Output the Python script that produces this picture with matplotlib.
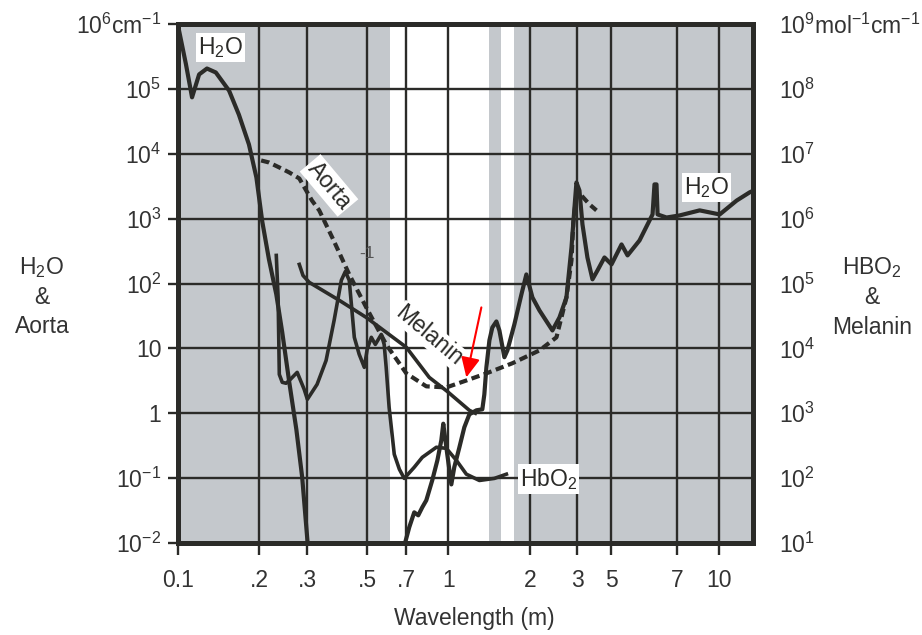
import matplotlib
matplotlib.use('Agg')
import matplotlib.pyplot as plt
from matplotlib.ticker import FixedLocator, FixedFormatter, NullLocator

plt.rcParams['font.family'] = ['Liberation Sans', 'DejaVu Sans']
plt.rcParams['mathtext.fontset'] = 'custom'
plt.rcParams['mathtext.rm'] = 'Liberation Sans'
plt.rcParams['mathtext.default'] = 'regular'

# wavelength ticks (as drawn in the original figure)
x_ticks = [0.1, 0.2, 0.3, 0.5, 0.7, 1, 2, 3, 4, 7, 10]
x_tick_labels = ['0.1', '.2', '.3', '.5', '.7', '1', '2', '3', '5', '7', '10']

left_ticks = [1e-2, 1e-1, 1, 10, 1e2, 1e3, 1e4, 1e5, 1e6]
left_tick_labels = ['$10^{-2}$', '$10^{-1}$', '1', '10', '$10^{2}$', '$10^{3}$',
                    '$10^{4}$', '$10^{5}$', '$10^{6}$cm$^{-1}$']
right_ticks = [1e1, 1e2, 1e3, 1e4, 1e5, 1e6, 1e7, 1e8, 1e9]
right_tick_labels = ['$10^{1}$', '$10^{2}$', '$10^{3}$', '$10^{4}$', '$10^{5}$',
                     '$10^{6}$', '$10^{7}$', '$10^{8}$', '$10^{9}$mol$^{-1}$cm$^{-1}$']

# transmission windows (white bands)
window_bands = [(0.61, 1.42), (1.57, 1.75)]

# water, UV part (cm^-1)
h2o_uv_wl = [0.100, 0.107, 0.1127, 0.1197, 0.128, 0.138, 0.1545, 0.168, 0.183,
             0.195, 0.205, 0.217, 0.231, 0.243, 0.258, 0.274, 0.288, 0.303]
h2o_uv_abs = [9.5e5, 2.4e5, 7.4e4, 1.67e5, 2.06e5, 1.79e5, 9.4e4, 4.0e4, 1.39e4,
              4.3e3, 900, 235, 68, 17.7, 3.0, 0.565, 0.103, 0.008]

# water, visible / IR part (cm^-1)
h2o_ir_wl = [0.687, 0.717, 0.748, 0.774, 0.801, 0.829, 0.872, 0.911, 0.942, 0.958,
             0.991, 1.026, 1.052, 1.099, 1.146, 1.196, 1.27, 1.336, 1.359, 1.383,
             1.419, 1.455, 1.506, 1.545, 1.612, 1.654, 1.755, 1.864, 1.944, 2.047,
             2.173, 2.427, 2.577, 2.735, 2.855, 2.929, 2.978, 3.055, 3.135, 3.27,
             3.414, 3.563, 3.781, 4.015, 4.373, 4.603, 5.097, 5.695, 5.79, 5.89,
             5.945, 6.416, 7.171, 8.506, 10.09, 11.66, 13.02, 13.5]
h2o_ir_abs = [0.009, 0.0175, 0.0297, 0.0267, 0.0355, 0.0455, 0.0925, 0.188, 0.382, 0.69,
              0.233, 0.080, 0.147, 0.299, 0.607, 0.96, 1.11, 1.15, 1.95, 5.1,
              13.3, 21, 26, 18.9, 7.3, 9.3, 23.4, 68, 138, 61,
              38.5, 18.9, 30, 61, 360, 1490, 3610, 2720, 815, 252,
              116, 159, 252, 197, 400, 271, 461, 1160, 3370, 3370,
              1160, 1040, 1120, 1340, 1160, 1900, 2540, 2720]

# aorta (cm^-1)
aorta_wl = [0.203, 0.217, 0.237, 0.258, 0.281, 0.313, 0.333, 0.372, 0.430, 0.497,
            0.589, 0.699, 0.829, 0.983, 1.166, 1.383, 1.726, 2.173, 2.512, 2.735,
            2.855, 2.90, 2.978, 3.109, 3.327, 3.532]
aorta_abs = [7880, 7340, 6150, 5150, 4160, 1900, 1340, 513, 138, 42.8,
             11.5, 4.12, 2.6, 2.5, 3.2, 4.12, 5.9, 9.3, 14.8, 61,
             227, 873, 2360, 2270, 1660, 1340]

# oxyhemoglobin (mol^-1 cm^-1)
hbo2_wl = [0.231, 0.2346, 0.237, 0.243, 0.251, 0.258, 0.276, 0.293, 0.301, 0.327,
           0.353, 0.378, 0.402, 0.416, 0.430, 0.449, 0.468, 0.489, 0.501, 0.519,
           0.537, 0.565, 0.579, 0.589, 0.604, 0.631, 0.659, 0.687, 0.748, 0.801,
           0.903, 0.983, 1.071, 1.166, 1.303, 1.480, 1.640]
hbo2_abs = [2.71e5, 6.1e4, 3970, 3000, 2900, 3200, 4270, 2330, 1640, 2790,
            6500, 2.7e4, 1.12e5, 1.53e5, 1.12e5, 1.48e4, 8100, 5100, 9700, 1.48e4,
            1.15e4, 1.64e4, 1.15e4, 5100, 1230, 233, 137, 99, 147, 209,
            299, 288, 188, 115, 92, 99, 115]

# melanin (mol^-1 cm^-1)
mel_wl = [0.281, 0.290, 0.306, 0.395, 0.497, 0.699, 0.850, 0.991, 1.196, 1.259]
mel_abs = [1.97e5, 1.33e5, 1.04e5, 5.5e4, 3.0e4, 1.04e4, 3570, 2170, 1110, 1000]

GRAY = '#c4c8cc'
INK = '#2b2b28'
TXT = '#333333'
FS = 16.5

fig = plt.figure(figsize=(9.22, 6.35), dpi=100)
ax = fig.add_axes([178 / 922, 1 - 543 / 635, 575 / 922, 519 / 635])
ax.set_xscale('log')
ax.set_yscale('log')
ax.set_xlim(0.1, 13.4)
ax.set_ylim(1e-2, 1e6)
ax.set_facecolor(GRAY)
ax.set_axisbelow(True)
for lo, hi in window_bands:
    ax.axvspan(lo, hi, color='white', lw=0, zorder=0.3)

ax.xaxis.set_major_locator(FixedLocator(x_ticks))
ax.xaxis.set_major_formatter(FixedFormatter(x_tick_labels))
ax.xaxis.set_minor_locator(NullLocator())
ax.yaxis.set_major_locator(FixedLocator(left_ticks))
ax.yaxis.set_major_formatter(FixedFormatter(left_tick_labels))
ax.yaxis.set_minor_locator(NullLocator())
ax.grid(True, which='major', color=INK, lw=1.7)
ax.tick_params(axis='y', direction='out', length=7, width=1.7, pad=5,
               labelsize=FS, color=INK, labelcolor=TXT)
ax.tick_params(axis='x', direction='out', length=8.5, width=1.7, pad=10,
               labelsize=FS, color=INK, labelcolor=TXT)

ax.plot(h2o_uv_wl, h2o_uv_abs, color=INK, lw=3.0, solid_joinstyle='round', zorder=2)
ax.plot(h2o_ir_wl, h2o_ir_abs, color=INK, lw=3.0, solid_joinstyle='round', zorder=2)
ax.plot(aorta_wl, aorta_abs, color=INK, lw=3.0, dashes=(2.0, 1.1), zorder=2)

ax2 = ax.twinx()
ax2.set_yscale('log')
ax2.set_ylim(1e1, 1e9)
ax2.yaxis.set_major_locator(FixedLocator(right_ticks))
ax2.yaxis.set_major_formatter(FixedFormatter(right_tick_labels))
ax2.yaxis.set_minor_locator(NullLocator())
ax2.tick_params(axis='y', length=0, pad=19, labelsize=FS, labelcolor=TXT)

ax2.plot(hbo2_wl, hbo2_abs, color=INK, lw=2.6, solid_joinstyle='round', zorder=2)
ax2.plot(mel_wl, mel_abs, color=INK, lw=2.6, solid_joinstyle='round', zorder=2)

for a in (ax, ax2):
    for sp in a.spines.values():
        sp.set_linewidth(3.5)
        sp.set_color(INK)

box = dict(facecolor='white', edgecolor='none', pad=1.5)
tr = ax.transData
ax2.text(0.144, 4.3e5, 'H$_2$O', transform=tr, fontsize=FS, color=INK,
         ha='center', va='center', bbox=box, zorder=5)
ax2.text(9.03, 3030, 'H$_2$O', transform=tr, fontsize=FS, color=INK,
         ha='center', va='center', bbox=box, zorder=5)
ax2.text(2.35, 0.096, 'HbO$_2$', transform=tr, fontsize=FS, color=INK,
         ha='center', va='center', bbox=box, zorder=5)
ax2.text(0.362, 3250, 'Aorta', transform=tr, fontsize=FS, color=INK, rotation=-50,
         rotation_mode='anchor', ha='center', va='center', bbox=box, zorder=5)
ax2.text(0.85, 15.9, 'Melanin', transform=tr, fontsize=FS, color=INK, rotation=-40,
         rotation_mode='anchor', ha='center', va='center',
         bbox=dict(facecolor='white', edgecolor='none', pad=0.5), zorder=5)
ax2.text(0.501, 291, '-1', transform=tr, fontsize=12.5, color='#555555',
         ha='center', va='center', zorder=5)
ax2.annotate('', xy=(1.166, 3.57), xytext=(1.325, 42.8), xycoords=tr, textcoords=tr,
             arrowprops=dict(arrowstyle='-|>,head_length=0.8,head_width=0.38',
                             color='red', lw=1.5, mutation_scale=15,
                             shrinkA=0, shrinkB=0), zorder=6)

# side labels
for txt, y in [('H$_2$O', 268), ('&', 298), ('Aorta', 327)]:
    fig.text(42 / 922, 1 - y / 635, txt, fontsize=FS, color=TXT, ha='center', va='center')
for txt, y in [('HBO$_2$', 268), ('&', 298), ('Melanin', 328)]:
    fig.text(872 / 922, 1 - y / 635, txt, fontsize=FS, color=TXT, ha='center', va='center')
fig.text(474 / 922, 1 - 618 / 635, 'Wavelength (m)', fontsize=FS, color=TXT,
         ha='center', va='center')

fig.savefig('out.png', dpi=100)
